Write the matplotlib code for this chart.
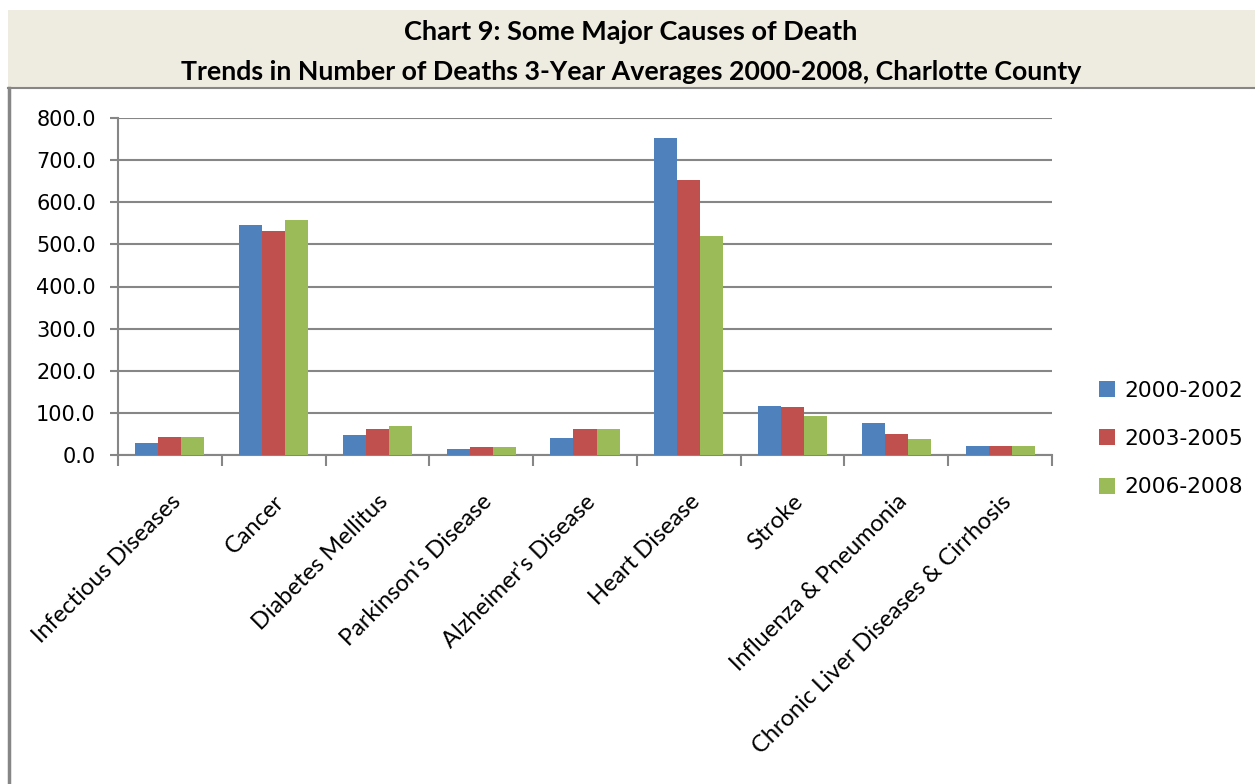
import matplotlib.pyplot as plt
from matplotlib.patches import Rectangle
from matplotlib.lines import Line2D
import numpy as np

# Causes of death and 3-year average counts
causes = ['Infectious Diseases', 'Cancer', 'Diabetes Mellitus', "Parkinson's Disease",
          "Alzheimer's Disease", 'Heart Disease', 'Stroke', 'Influenza & Pneumonia',
          'Chronic Liver Diseases & Cirrhosis']
periods = ['2000-2002', '2003-2005', '2006-2008']
deaths_2000_2002 = [29, 545, 48, 14, 40, 752, 117, 76, 21]
deaths_2003_2005 = [43, 532, 62, 19, 62, 654, 114, 50, 21]
deaths_2006_2008 = [43, 557, 69, 19, 62, 521, 93, 38, 21]
yticks = [0, 100, 200, 300, 400, 500, 600, 700, 800]

colors = ['#4F81BD', '#C0504D', '#9BBB59']
grid_color = '#868686'
W, H = 1255, 784

fig = plt.figure(figsize=(W / 100, H / 100), dpi=100)
fig.patch.set_facecolor('white')

# title band and chart frame
fig.patches.append(Rectangle((8 / W, 1 - 88 / H), 1 - 8 / W, 78 / H, transform=fig.transFigure,
                             facecolor='#EEECE1', edgecolor='none', zorder=0))
fig.lines.append(Line2D([9 / W, 9 / W], [0, 1 - 88 / H], transform=fig.transFigure,
                        color=grid_color, linewidth=2.5))
fig.lines.append(Line2D([8 / W, 1], [1 - 88 / H, 1 - 88 / H], transform=fig.transFigure,
                        color=grid_color, linewidth=1.5))

title_font = ['Lato', 'DejaVu Sans']
fig.text(631 / W, 1 - 32 / H, 'Chart 9: Some Major Causes of Death', ha='center', va='center',
         fontsize=19.5, fontweight='bold', family=title_font)
fig.text(631 / W, 1 - 72 / H, 'Trends in Number of Deaths 3-Year Averages 2000-2008, Charlotte County',
         ha='center', va='center', fontsize=19.3, fontweight='bold', family=title_font)

ax = fig.add_axes([118 / W, 1 - 455 / H, (1052 - 118) / W, (455 - 118) / H])

x = np.arange(len(causes))
width = 0.222
series = [deaths_2000_2002, deaths_2003_2005, deaths_2006_2008]
for i, (vals, lab) in enumerate(zip(series, periods)):
    ax.bar(x + (i - 1) * width, vals, width, color=colors[i], label=lab, zorder=3)

ax.set_xlim(-0.5, len(causes) - 0.5)
ax.set_ylim(0, 800)
ax.set_yticks(yticks)
ax.set_yticklabels(['%.1f' % v for v in yticks], fontsize=15, family='DejaVu Sans')
ax.yaxis.grid(True, color=grid_color, linewidth=1.5, zorder=0)
ax.set_axisbelow(True)

ax.set_xticks(x)
ax.set_xticklabels(causes, rotation=45, ha='right', rotation_mode='anchor',
                   fontsize=17, family=['Lato', 'DejaVu Sans'])
ax.tick_params(axis='x', which='major', length=0, pad=26)
ax.set_xticks(np.arange(len(causes) + 1) - 0.5, minor=True)
ax.tick_params(axis='x', which='minor', length=8, color=grid_color, width=1.5)
ax.tick_params(axis='y', length=6, color=grid_color, width=1.5, pad=10)

for side in ['top', 'right']:
    ax.spines[side].set_visible(False)
for side in ['left', 'bottom']:
    ax.spines[side].set_color(grid_color)
    ax.spines[side].set_linewidth(1.5)

leg = fig.legend(loc='center left', bbox_to_anchor=(1079 / W, 1 - 439 / H), frameon=False,
                 handlelength=0.75, handleheight=0.75, handletextpad=0.45,
                 labelspacing=1.3, prop={'family': 'DejaVu Sans', 'size': 15.7})

fig.savefig('out.png', dpi=100)
